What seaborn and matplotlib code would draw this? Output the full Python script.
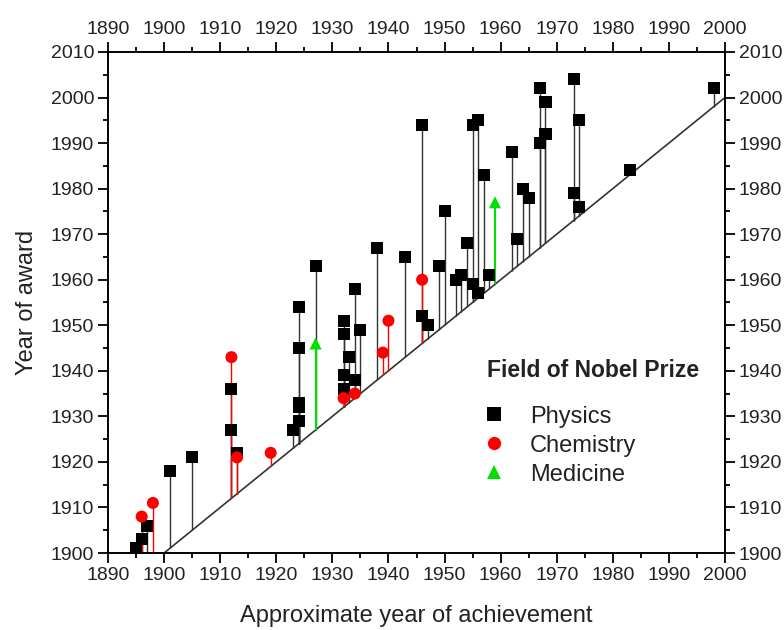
import matplotlib
matplotlib.use("Agg")
import matplotlib.pyplot as plt
import numpy as np
import pandas as pd
import seaborn as sns
from matplotlib.ticker import MultipleLocator

# Physics: approx year of achievement / year of award
physics_x = [1895, 1896, 1897, 1901, 1905, 1912, 1912, 1913, 1923, 1924,
             1924, 1924, 1924, 1924, 1927, 1932, 1932, 1932, 1932, 1933,
             1934, 1934, 1935, 1938, 1943, 1946, 1946, 1947, 1949, 1950,
             1952, 1953, 1954, 1955, 1955, 1956, 1956, 1957, 1958, 1962,
             1963, 1964, 1965, 1967, 1967, 1968, 1968, 1973, 1973, 1974,
             1974, 1983, 1998]
physics_y = [1901, 1903, 1906, 1918, 1921, 1927, 1936, 1922, 1927, 1929,
             1932, 1933, 1945, 1954, 1963, 1936, 1939, 1948, 1951, 1943,
             1938, 1958, 1949, 1967, 1965, 1952, 1994, 1950, 1963, 1975,
             1960, 1961, 1968, 1959, 1994, 1995, 1957, 1983, 1961, 1988,
             1969, 1980, 1978, 1990, 2002, 1992, 1999, 1979, 2004, 1976,
             1995, 1984, 2002]

chemistry_x = [1896, 1898, 1912, 1913, 1919, 1932, 1934, 1939, 1940, 1946]
chemistry_y = [1908, 1911, 1943, 1921, 1922, 1934, 1935, 1944, 1951, 1960]

medicine_x = [1927, 1959]
medicine_y = [1946, 1977]

fields = ["Physics", "Chemistry", "Medicine"]
colors = {"Physics": "black", "Chemistry": "#ff0000", "Medicine": "#00e000"}
stem_colors = {"Physics": "#333333", "Chemistry": "#ff0000", "Medicine": "#00e000"}
markers = {"Physics": "s", "Chemistry": "o", "Medicine": "^"}

df = pd.concat([
    pd.DataFrame({"achieved": physics_x, "award": physics_y, "field": "Physics"}),
    pd.DataFrame({"achieved": chemistry_x, "award": chemistry_y, "field": "Chemistry"}),
    pd.DataFrame({"achieved": medicine_x, "award": medicine_y, "field": "Medicine"}),
], ignore_index=True)

sns.set_theme(style="ticks")
plt.rcParams["font.family"] = ["Liberation Sans", "DejaVu Sans"]

fig, ax = plt.subplots(figsize=(7.84, 6.3), dpi=100)
fig.subplots_adjust(left=0.1378, right=0.9247, top=0.9175, bottom=0.1222)

# y = x reference line
ax.axline((1900, 1900), slope=1, color="#333333", lw=1.2, zorder=1)

# stems from the diagonal up to the award year
for f in fields:
    sub = df[df["field"] == f]
    ax.vlines(sub["achieved"], sub["achieved"], sub["award"],
              color=stem_colors[f], lw=1.5 if f == "Medicine" else 1.0, zorder=2)

sns.scatterplot(data=df, x="achieved", y="award", hue="field", style="field",
                hue_order=fields, style_order=fields, palette=colors,
                markers=markers, s=75, edgecolor="none", linewidth=0,
                ax=ax, zorder=3)

ax.set_xlim(1890, 2000)
ax.set_ylim(1900, 2010)
ax.xaxis.set_major_locator(MultipleLocator(10))
ax.xaxis.set_minor_locator(MultipleLocator(5))
ax.yaxis.set_major_locator(MultipleLocator(10))
ax.yaxis.set_minor_locator(MultipleLocator(5))
ax.tick_params(which="both", direction="out", top=True, right=True,
               labeltop=True, labelright=True, labelsize=14, width=1.3,
               color="black", labelcolor="#222222")
ax.tick_params(which="major", length=7, pad=3)
ax.tick_params(which="minor", length=3.5)
for sp in ax.spines.values():
    sp.set_visible(True)
    sp.set_linewidth(1.4)
    sp.set_color("black")

ax.set_xlabel("Approximate year of achievement", fontsize=17, color="#222222", labelpad=15)
ax.set_ylabel("Year of award", fontsize=17, color="#222222", labelpad=9)

# legend title drawn as text, entries via seaborn legend
ax.text(0.614, 0.365, "Field of Nobel Prize", transform=ax.transAxes,
        fontsize=16.5, fontweight="bold", color="#222222", va="center", ha="left")
sns.move_legend(ax, loc="upper left", bbox_to_anchor=(0.579, 0.332),
                frameon=False, title=None, fontsize=17, markerscale=1.1,
                handlelength=0.8, handletextpad=1.15, labelspacing=0.3,
                borderpad=0.3)
leg = ax.get_legend()
for t in leg.get_texts():
    t.set_color("#222222")

fig.savefig("out.png", dpi=100)
